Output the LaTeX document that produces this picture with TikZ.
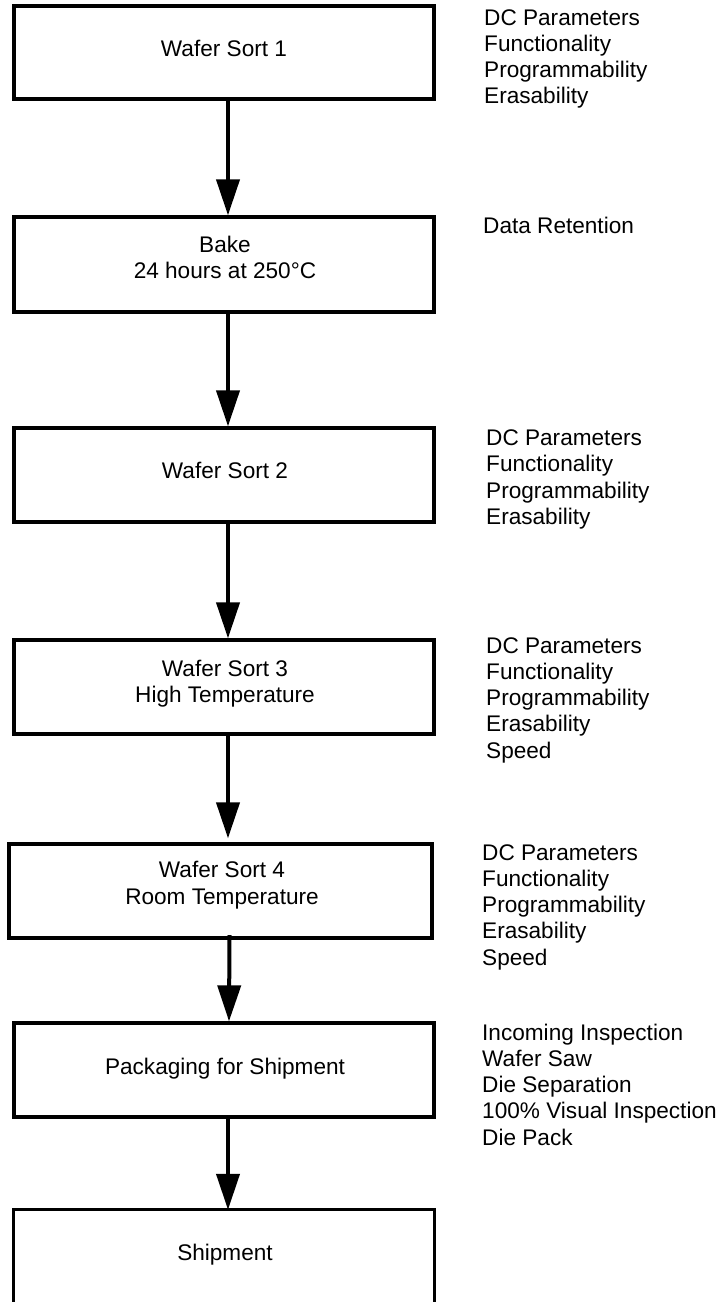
\documentclass[tikz,border=0pt]{standalone}
\usepackage{fontspec}
\setmainfont{Liberation Sans}
\usetikzlibrary{arrows.meta}
\newcommand\myfont{\fontsize{22.6}{26.3}\selectfont}
\tikzset{
  box/.style={draw, line width=3.3pt, minimum width=420pt, minimum height=94pt, inner sep=0pt},
  txt/.style={anchor=base, inner sep=0pt, font=\myfont},
  side/.style={anchor=base west, inner sep=0pt, font=\myfont},
  arr/.style={line width=4pt, -{Triangle[width=23pt,length=36pt]}}
}
\begin{document}
\begin{tikzpicture}[x=1pt,y=-1pt]
\useasboundingbox (0,0) rectangle (724,1302);
% boxes
\node[box, minimum height=93pt] (b1) at (224,52.5) {};
\node[box, minimum height=95pt] (b2) at (224,264.5) {};
\node[box] (b3) at (224,475) {};
\node[box] (b4) at (224,687) {};
\node[box, minimum width=423pt] (b5) at (220.5,891) {};
\node[box] (b6) at (224,1070) {};
\node[inner sep=0pt, minimum width=420pt, minimum height=100pt] (b7) at (224,1260) {};
\draw[line width=3.3pt] (b7.south west) -- (b7.north west) -- (b7.north east) -- (b7.south east);
% box texts
\node[txt] (t1) at (224,56) {Wafer Sort 1};
\node[txt] (t2a) at (225,252) {Bake};
\node[txt] (t2b) at (225,278) {24 hours at 250°C};
\node[txt] (t3) at (225,478) {Wafer Sort 2};
\node[txt] (t4a) at (225,676) {Wafer Sort 3};
\node[txt] (t4b) at (225,702) {High Temperature};
\node[txt] (t5a) at (222,877) {Wafer Sort 4};
\node[txt] (t5b) at (222,904) {Room Temperature};
\node[txt] (t6) at (225,1074) {Packaging for Shipment};
\node[txt] (t7) at (225,1260) {Shipment};
% side texts
\foreach \s [count=\i] in {DC Parameters,Functionality,Programmability,Erasability}
  \node[side] (sa\i) at (484,{25+26.3*(\i-1)}) {\s};
\node[side] (sb1) at (483,233) {Data Retention};
\foreach \s [count=\i] in {DC Parameters,Functionality,Programmability,Erasability}
  \node[side] (sc\i) at (486,{445.5+26.3*(\i-1)}) {\s};
\foreach \s [count=\i] in {DC Parameters,Functionality,Programmability,Erasability,Speed}
  \node[side] (sd\i) at (486,{653+26.3*(\i-1)}) {\s};
\foreach \s [count=\i] in {DC Parameters,Functionality,Programmability,Erasability,Speed}
  \node[side] (se\i) at (482,{860+26.3*(\i-1)}) {\s};
\foreach \s [count=\i] in {Incoming Inspection,Wafer Saw,Die Separation,100\% Visual Inspection,Die Pack}
  \node[side] (sf\i) at (482,{1040+26.3*(\i-1)}) {\s};
% arrows
\draw[arr] ([xshift=4pt]b1.south) -- ([xshift=4pt]b2.north);
\draw[arr] ([xshift=4pt]b2.south) -- ([xshift=4pt]b3.north);
\draw[arr] ([xshift=4pt]b3.south) -- ([xshift=4pt]b4.north);
\draw[arr, shorten >=4pt] ([xshift=4pt]b4.south) -- ([xshift=7.5pt]b5.north);
\draw[arr] ([xshift=9pt,yshift=4.5pt]b5.south) -- ([xshift=5pt]b6.north);
\draw[arr] ([xshift=4pt]b6.south) -- ([xshift=4pt]b7.north);
\end{tikzpicture}
\end{document}
